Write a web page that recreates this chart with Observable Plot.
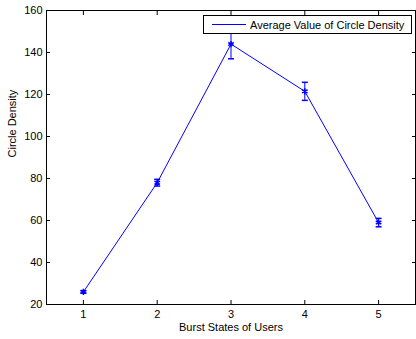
<!DOCTYPE html>
<html><head><meta charset="utf-8">
<script src="https://cdn.jsdelivr.net/npm/d3@7"></script>
<script src="https://cdn.jsdelivr.net/npm/@observablehq/plot@0.6"></script>
<style>
body{margin:0;background:#fff;font-family:"Liberation Sans",Arial,sans-serif;}
#wrap{position:relative;width:416px;height:339px;}
#legend{position:absolute;left:203px;top:15px;width:209px;height:19px;border:1px solid #000;background:#fff;font-size:11px;display:flex;align-items:center;box-sizing:border-box;}
#legend .ln{display:inline-block;width:34px;height:1px;background:#0000ff;margin:0 4px 0 8px;}
</style></head>
<body><div id="wrap"></div>
<script>
const states = [1, 2, 3, 4, 5];
const density = [26, 78, 144, 121.5, 59];
const errLow = [0.6, 1.6, 7, 4.3, 2];
const errHigh = [0.6, 1.6, 7, 4.3, 2];
const xTicks = [1, 2, 3, 4, 5];
const yTicks = [20, 40, 60, 80, 100, 120, 140, 160];
const seriesName = "Average Value of Circle Density";

const data = states.map((s, i) => ({x: s, y: density[i], lo: density[i] - errLow[i], hi: density[i] + errHigh[i]}));
const cap = {draw(ctx, size) { const r = 3; ctx.moveTo(-r, 0); ctx.lineTo(r, 0); }};
const blue = "#0000ff";
const lo = data.map(d => ({x: d.x, y: d.lo})), hi = data.map(d => ({x: d.x, y: d.hi}));

const chart = Plot.plot({
  width: 416, height: 339,
  marginLeft: 46, marginRight: 1, marginTop: 10, marginBottom: 35,
  style: {fontFamily: "Liberation Sans, Arial, sans-serif", fontSize: "11px", color: "#000", background: "#fff"},
  x: {domain: [0.5, 5.5], ticks: xTicks},
  y: {domain: [20, 160], ticks: yTicks},
  marks: [
    Plot.frame({stroke: "#000", strokeWidth: 1}),
    Plot.axisX({ticks: xTicks, tickFormat: "d", tickSize: -4, tickPadding: 10, label: null}),
    Plot.axisX({anchor: "top", ticks: xTicks, tickSize: -4, text: null, label: null}),
    Plot.axisY({ticks: yTicks, tickSize: -4, tickPadding: 8, label: null}),
    Plot.axisY({anchor: "right", ticks: yTicks, tickSize: -4, text: null, label: null}),
    Plot.ruleX(data, {x: "x", y1: "lo", y2: "hi", stroke: blue}),
    Plot.dot(lo, {x: "x", y: "y", symbol: cap, stroke: blue, r: 3}),
    Plot.dot(hi, {x: "x", y: "y", symbol: cap, stroke: blue, r: 3}),
    Plot.line(data, {x: "x", y: "y", stroke: blue, strokeWidth: 1}),
    Plot.dot(data, {x: "x", y: "y", symbol: "asterisk", stroke: blue, r: 3}),
    Plot.text(["Burst States of Users"], {frameAnchor: "bottom", dy: 26, fontSize: 11}),
    Plot.text(["Circle Density"], {frameAnchor: "left", dx: -34, rotate: -90, fontSize: 11})
  ]
});
const wrap = document.getElementById("wrap");
wrap.appendChild(chart);
const lg = document.createElement("div");
lg.id = "legend";
lg.innerHTML = '<span class="ln"></span><span></span>';
lg.lastChild.textContent = seriesName;
wrap.appendChild(lg);
</script></body></html>
